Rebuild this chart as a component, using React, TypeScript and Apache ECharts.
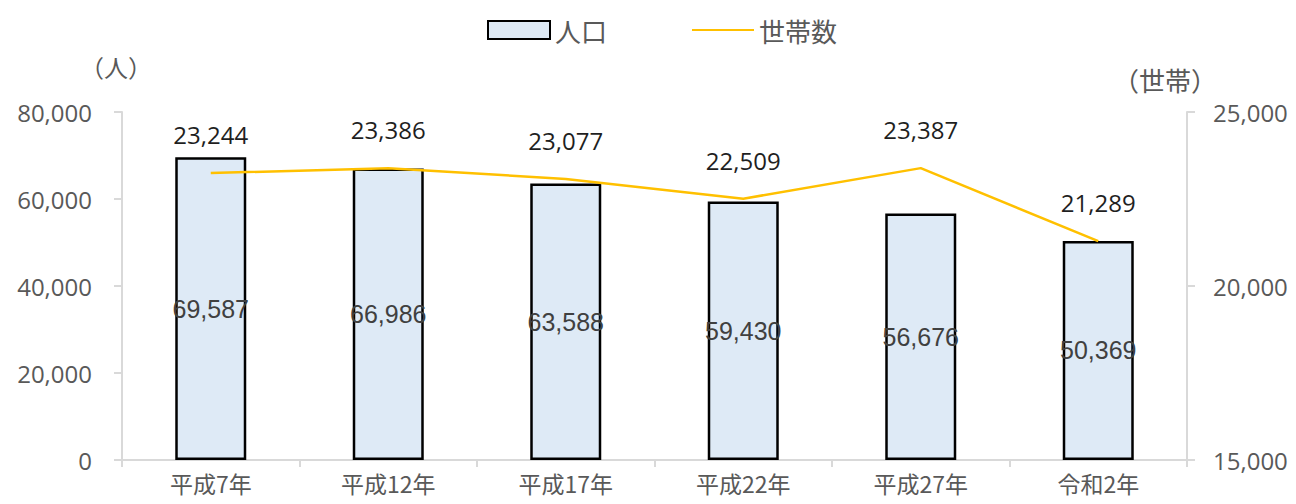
import React, { useEffect, useRef } from "react";
import * as echarts from "echarts";

const categories = ["平成7年", "平成12年", "平成17年", "平成22年", "平成27年", "令和2年"];
const population = [69587, 66986, 63588, 59430, 56676, 50369];
const households = [23244, 23386, 23077, 22509, 23387, 21289];

const leftTicks = { min: 0, max: 80000, interval: 20000 };
const rightTicks = { min: 15000, max: 25000, interval: 5000 };

const fmt = (v: number) => v.toLocaleString("en-US");

export default function App() {
  const ref = useRef<HTMLDivElement>(null);
  useEffect(() => {
    if (!ref.current) return;
    const chart = echarts.init(ref.current, undefined, { renderer: "svg" });
    const axisColor = "#D9D9D9";
    const labelColor = "#595959";
    const jp = "'Noto Sans CJK JP', 'Noto Sans', sans-serif";
    const num = "'Open Sans', 'Noto Sans', sans-serif";
    chart.setOption({
      animation: false,
      backgroundColor: "#ffffff",
      textStyle: { fontFamily: jp },
      legend: {
        top: 12,
        left: 482,
        itemWidth: 62,
        itemHeight: 18,
        itemGap: 84,
        textStyle: { fontSize: 26, color: labelColor, fontFamily: jp },
        data: [
          { name: "人口", icon: "rect" },
          { name: "世帯数" },
        ],
      },
      graphic: [
        {
          type: "text",
          left: 80,
          top: 54,
          style: { text: "（人）", fontSize: 24, fill: labelColor, fontFamily: jp },
        },
        {
          type: "text",
          left: 1113,
          top: 66,
          style: { text: "（世帯）", fontSize: 26, fill: labelColor, fontFamily: jp },
        },
      ],
      grid: { left: 122, right: 109, top: 112, bottom: 44, containLabel: false },
      xAxis: {
        type: "category",
        data: categories,
        boundaryGap: true,
        axisLine: { lineStyle: { color: axisColor, width: 2 } },
        axisTick: { show: true, alignWithLabel: false, length: 7, lineStyle: { color: axisColor, width: 2 } },
        axisLabel: { color: labelColor, fontSize: 23, margin: 11, fontFamily: jp },
      },
      yAxis: [
        {
          type: "value",
          min: leftTicks.min,
          max: leftTicks.max,
          interval: leftTicks.interval,
          splitLine: { show: false },
          axisLine: { show: true, lineStyle: { color: axisColor, width: 2 } },
          axisTick: { show: true, length: 8, lineStyle: { color: axisColor, width: 2 } },
          axisLabel: {
            color: labelColor,
            fontSize: 24,
            margin: 30,
            fontFamily: num,
            formatter: (v: number) => fmt(v),
          },
        },
        {
          type: "value",
          min: rightTicks.min,
          max: rightTicks.max,
          interval: rightTicks.interval,
          position: "right",
          splitLine: { show: false },
          axisLine: { show: true, lineStyle: { color: axisColor, width: 2 } },
          axisTick: { show: true, length: 8, lineStyle: { color: axisColor, width: 2 } },
          axisLabel: {
            color: labelColor,
            fontSize: 24,
            margin: 26,
            fontFamily: num,
            formatter: (v: number) => fmt(v),
          },
        },
      ],
      series: [
        {
          name: "人口",
          type: "bar",
          yAxisIndex: 0,
          data: population,
          barWidth: "40%",
          itemStyle: { color: "#DEEAF6", borderColor: "#000000", borderWidth: 2.5 },
          label: {
            show: true,
            position: "inside",
            color: "#404040",
            textBorderWidth: 0,
            fontSize: 25,
            fontFamily: "'Liberation Sans', Arial, sans-serif",
            formatter: (p: any) => fmt(p.value),
          },
        },
        {
          name: "世帯数",
          type: "line",
          yAxisIndex: 1,
          data: households,
          symbol: "circle",
          symbolSize: 1,
          showSymbol: true,
          lineStyle: { color: "#FFC000", width: 2.5 },
          itemStyle: { color: "rgba(0,0,0,0)" },
          label: {
            show: true,
            position: "top",
            distance: 26,
            color: "#1f1f1f",
            fontSize: 24,
            fontFamily: num,
            formatter: (p: any) => fmt(p.value),
          },
          z: 3,
        },
      ],
    });
    return () => chart.dispose();
  }, []);
  return (
    <div
      ref={ref}
      style={{ position: "absolute", left: 0, top: 0, width: 1296, height: 504 }}
    />
  );
}
